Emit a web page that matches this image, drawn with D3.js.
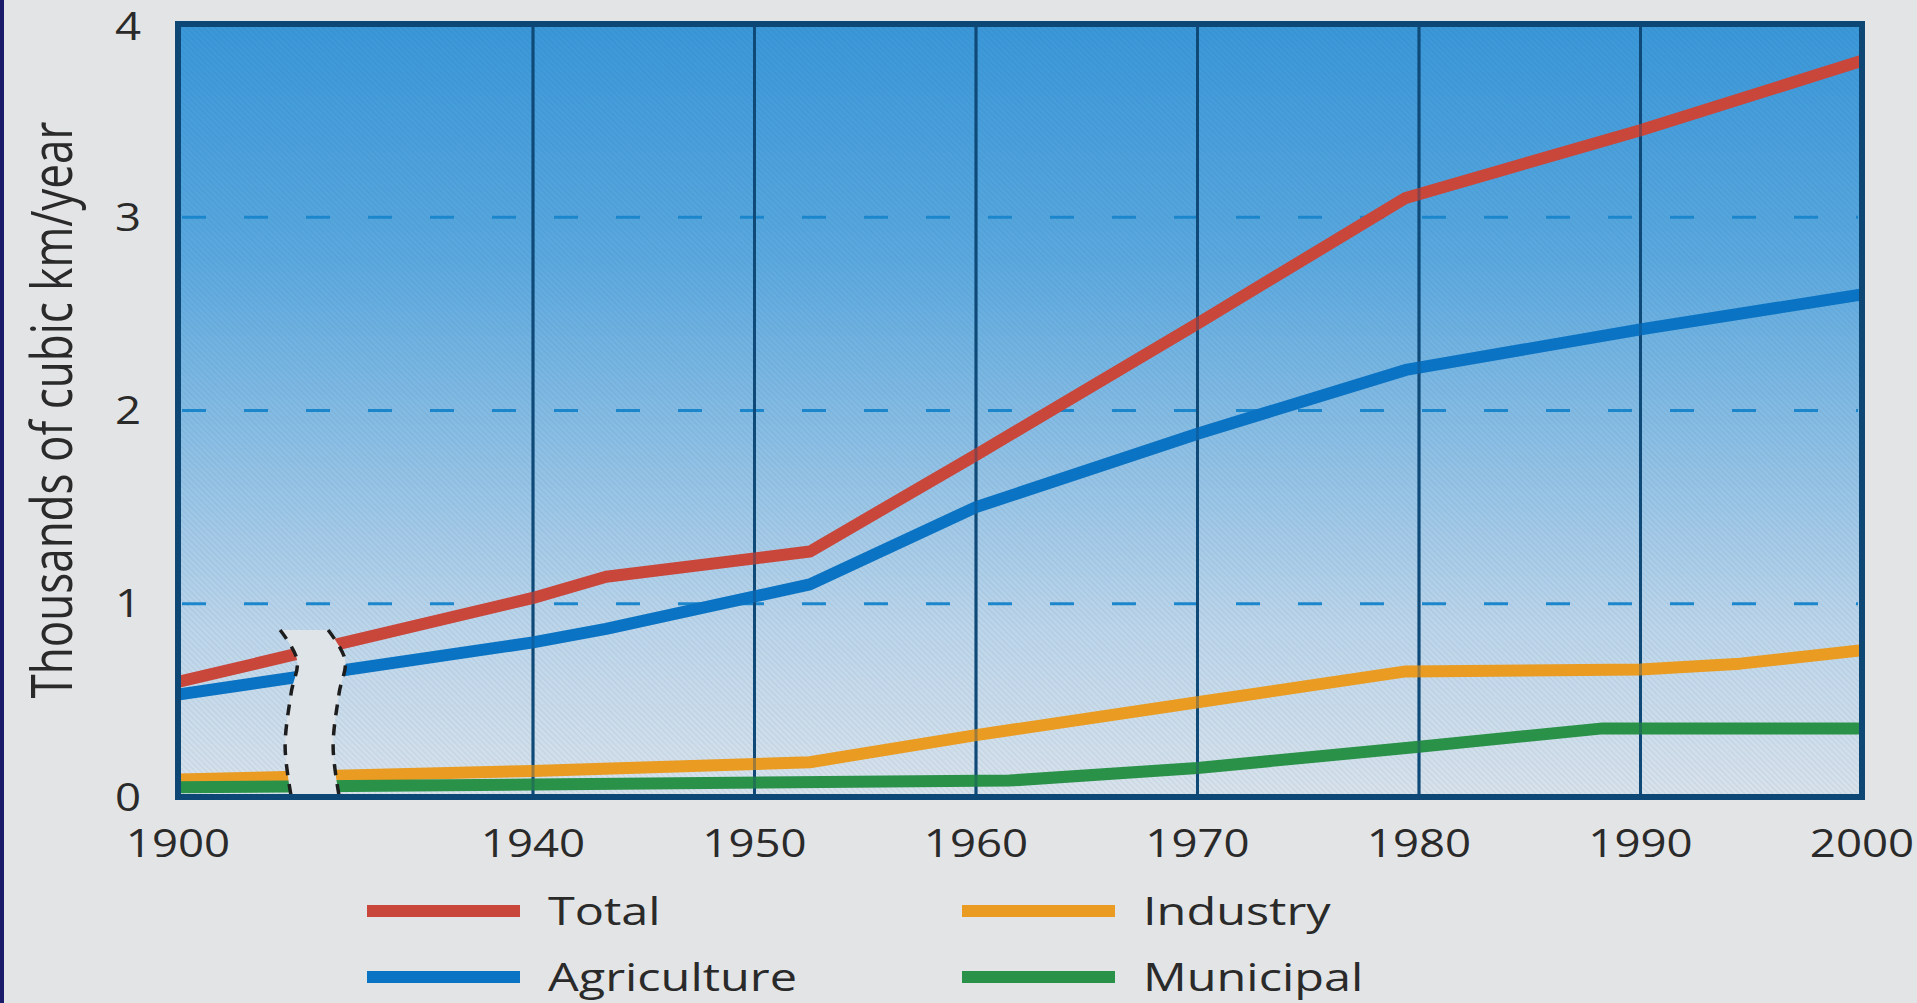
<!DOCTYPE html>
<html><head><meta charset="utf-8">
<script src="https://cdn.jsdelivr.net/npm/d3@7"></script>
<style>
html,body{margin:0;padding:0;background:#e3e4e6;overflow:hidden}
text{font-family:"Open Sans","Noto Sans",sans-serif;fill:#2a2a2a}
</style>
</head><body>
<svg id="chart" width="1917" height="1003"></svg>
<script>
// ---- data ----
const xTicks = [1900, 1940, 1950, 1960, 1970, 1980, 1990, 2000];
const yTicks = [0, 1, 2, 3, 4];
const gridYears = [1940, 1950, 1960, 1970, 1980, 1990];
const dashedLevels = [1, 2, 3];

const totalYears = [1900, 1940, 1943.3, 1952.5, 1960, 1970, 1979.4, 1990, 2000];
const totalValues = [0.595, 1.03, 1.14, 1.27, 1.77, 2.45, 3.10, 3.45, 3.81];

const agriYears = [1900, 1940, 1943.3, 1952.5, 1960, 1970, 1979.4, 1990, 2000];
const agriValues = [0.53, 0.80, 0.87, 1.10, 1.50, 1.88, 2.21, 2.42, 2.60];

const industryYears = [1900, 1940, 1952.5, 1960, 1970, 1979.4, 1990, 1994.5, 2000];
const industryValues = [0.09, 0.135, 0.18, 0.32, 0.49, 0.65, 0.66, 0.69, 0.76];

const municipalYears = [1900, 1940, 1961.5, 1970, 1980, 1988.3, 2000];
const municipalValues = [0.05, 0.065, 0.085, 0.15, 0.26, 0.355, 0.355];

const seriesNames = ["Total", "Agriculture", "Industry", "Municipal"];
const yTitle = "Thousands of cubic km/year";
const breakYear = 1915;

// ---- build ----
const colors = {Total:"#c9463a", Agriculture:"#0a73c3", Industry:"#e99b22", Municipal:"#2a9149"};
const series = [
  {name:"Total", years: totalYears, values: totalValues},
  {name:"Agriculture", years: agriYears, values: agriValues},
  {name:"Industry", years: industryYears, values: industryValues},
  {name:"Municipal", years: municipalYears, values: municipalValues}
];

const svg = d3.select("#chart");
const L = 178, R = 1862, T = 24, B = 797;
const x = d3.scaleLinear().domain([1900, 1940, 2000]).range([L, 533, R]);
const y = d3.scaleLinear().domain([0, 4]).range([B, T]);

const defs = svg.append("defs");
const grad = defs.append("linearGradient").attr("id","bg").attr("x1",0).attr("y1",0).attr("x2",0).attr("y2",1);
[[0,"#3a97d8"],[0.3,"#5aa8de"],[0.55,"#8dbfe4"],[0.78,"#bcd5ea"],[1,"#d8e2eb"]].forEach(s=>
  grad.append("stop").attr("offset",s[0]).attr("stop-color",s[1]));
const pat = defs.append("pattern").attr("id","hatch").attr("patternUnits","userSpaceOnUse")
  .attr("width",4).attr("height",4).attr("patternTransform","rotate(-45)");
pat.append("line").attr("x1",0).attr("y1",0).attr("x2",0).attr("y2",4)
  .attr("stroke","#0b3c66").attr("stroke-width",1.2).attr("stroke-opacity",0.13);
defs.append("clipPath").attr("id","plotclip").append("rect")
  .attr("x",L).attr("y",T).attr("width",R-L).attr("height",B-T);

// left page stripe
svg.append("rect").attr("x",0).attr("y",0).attr("width",4).attr("height",1003).attr("fill","#1b1b6c");

// plot background
svg.append("rect").attr("x",L).attr("y",T).attr("width",R-L).attr("height",B-T).attr("fill","url(#bg)");
svg.append("rect").attr("x",L).attr("y",T).attr("width",R-L).attr("height",B-T).attr("fill","url(#hatch)");

// dashed horizontal gridlines
svg.append("g").selectAll("line").data(dashedLevels).join("line")
  .attr("x1",L+4).attr("x2",R-4).attr("y1",d=>y(d)).attr("y2",d=>y(d))
  .attr("stroke","#1c86cc").attr("stroke-width",3).attr("stroke-dasharray","24 38");

// vertical gridlines (under)
svg.append("g").selectAll("line").data(gridYears).join("line")
  .attr("x1",d=>x(d)).attr("x2",d=>x(d)).attr("y1",T).attr("y2",B)
  .attr("stroke","#0e4f80").attr("stroke-width",3);

// series lines
const line = d3.line().x(d=>x(d[0])).y(d=>y(d[1]));
const lg = svg.append("g").attr("clip-path","url(#plotclip)");
series.forEach(s=>{
  lg.append("path").datum(s.years.map((yr,i)=>[yr, s.values[i]]))
    .attr("d", line).attr("fill","none").attr("stroke", colors[s.name])
    .attr("stroke-width",12).attr("stroke-linejoin","round");
});

// vertical gridlines (over, faint)
svg.append("g").selectAll("line").data(gridYears).join("line")
  .attr("x1",d=>x(d)).attr("x2",d=>x(d)).attr("y1",T).attr("y2",B)
  .attr("stroke","#0e3f6a").attr("stroke-width",3).attr("stroke-opacity",0.35);

// axis break
const breakShape = [[-7,0.864],[10,0.709],[4,0.538],[-2,0.259],[4,0.005]];
const half = 24;
const cx = x(breakYear);
const curve = d3.line().x(d=>d[0]).y(d=>d[1]).curve(d3.curveCatmullRom);
const leftPts = breakShape.map(p=>[cx+p[0]-half, y(p[1])]);
const rightPts = breakShape.map(p=>[cx+p[0]+half, y(p[1])]);
const leftD = curve(leftPts);
const rightD = curve(rightPts.slice().reverse());
svg.append("path").attr("d", leftD + "L" + rightD.slice(1) + "Z").attr("fill","#dfe4e9");
[leftPts, rightPts].forEach(pts=>{
  svg.append("path").attr("d", curve(pts)).attr("fill","none")
    .attr("stroke","#1d1d1d").attr("stroke-width",3.5).attr("stroke-dasharray","11 9");
});

// frame
svg.append("rect").attr("x",L).attr("y",T).attr("width",R-L).attr("height",B-T)
  .attr("fill","none").attr("stroke","#0c4775").attr("stroke-width",6);

// axis labels
const xAxisG = svg.append("g");
xTicks.forEach(t=>{
  xAxisG.append("text").attr("transform",`translate(${x(t)},857) scale(1.2,1)`)
    .attr("text-anchor","middle").attr("font-size",38).text(t);
});
const yAxisG = svg.append("g");
yTicks.forEach(t=>{
  yAxisG.append("text").attr("transform",`translate(141,${Math.max(y(t)+13.5, 40)}) scale(1.2,1)`)
    .attr("text-anchor","end").attr("font-size",38).text(t);
});
svg.append("text").attr("transform","translate(72,410) scale(1.2,1) rotate(-90)")
  .attr("text-anchor","middle").attr("font-size",47)
  .attr("textLength",577).attr("lengthAdjust","spacingAndGlyphs").text(yTitle);

// legend
const legendPos = [[367,911],[367,977],[962,911],[962,977]];
seriesNames.forEach((n,i)=>{
  const [lx, ly] = legendPos[i];
  svg.append("line").attr("x1",lx).attr("x2",lx+153).attr("y1",ly).attr("y2",ly)
    .attr("stroke",colors[n]).attr("stroke-width",12);
  svg.append("text").attr("transform",`translate(${lx+181},${ly+13.5}) scale(1.28,1)`)
    .attr("font-size",38).text(n);
});
</script>
</body></html>
